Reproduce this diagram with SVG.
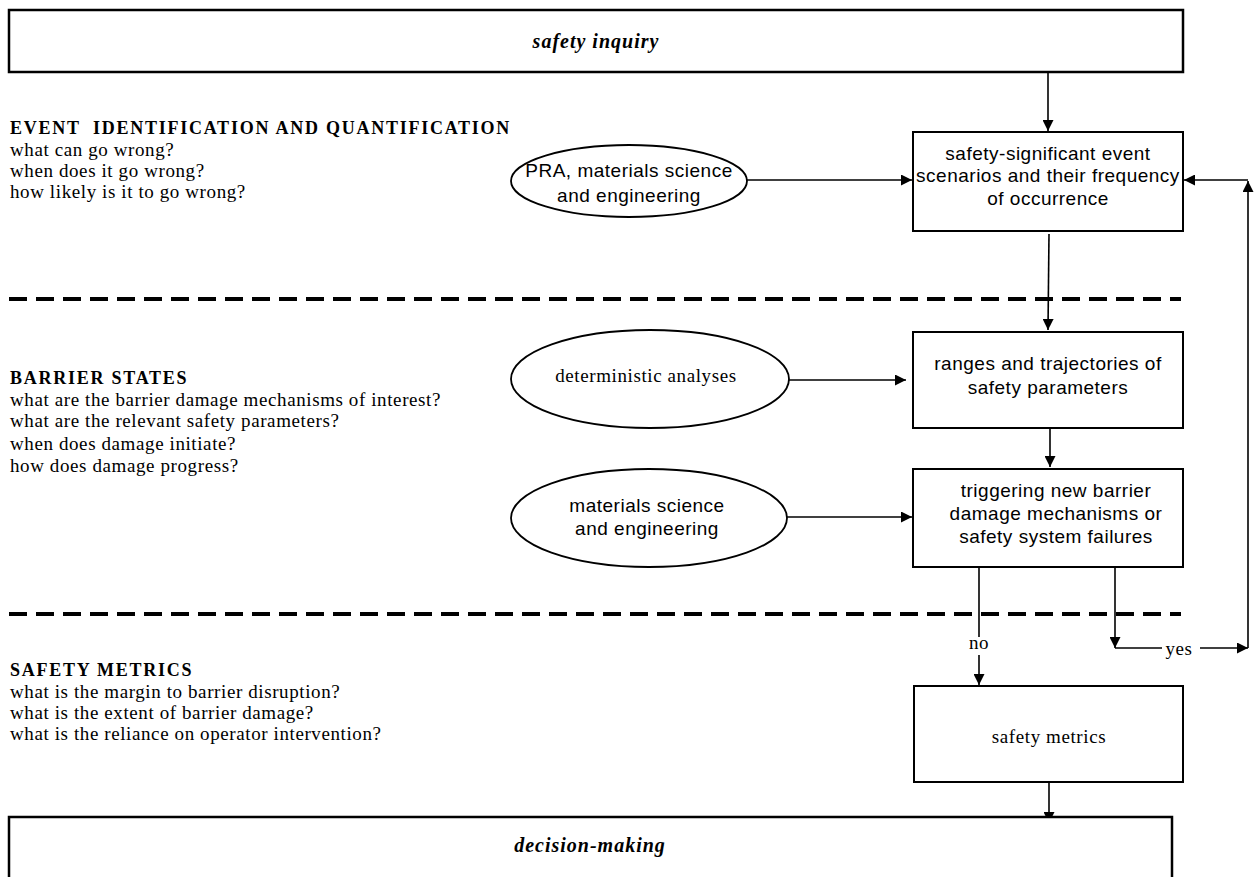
<svg xmlns="http://www.w3.org/2000/svg" width="1255" height="877" viewBox="0 0 1255 877">
<defs>
<marker id="ah" viewBox="0 0 10 10" refX="10" refY="5" markerWidth="11" markerHeight="11" markerUnits="userSpaceOnUse" orient="auto">
<path d="M0,0 L10,5 L0,10 z" fill="#000"/>
</marker>
<style>
.big{fill:#fff;stroke:#000;stroke-width:2.5}
.box{fill:#fff;stroke:#000;stroke-width:2}
.ell{fill:#fff;stroke:#000;stroke-width:1.8}
.con{fill:none;stroke:#000;stroke-width:1.6}
.arr{fill:none;stroke:#000;stroke-width:1.6;marker-end:url(#ah)}
.dash{fill:none;stroke:#000;stroke-width:4;stroke-dasharray:18 9}
.ti{font-family:"Liberation Serif","Times New Roman",serif;font-style:italic;font-weight:bold;font-size:20px;letter-spacing:1px;text-anchor:middle;fill:#000}
.hd{font-family:"Liberation Serif","Times New Roman",serif;font-weight:bold;font-size:18px;letter-spacing:1.75px;fill:#000;white-space:pre}
.q{font-family:"Liberation Serif","Times New Roman",serif;font-size:19px;letter-spacing:0.6px;fill:#000}
.qc{font-family:"Liberation Serif","Times New Roman",serif;font-size:19px;letter-spacing:0.6px;fill:#000;text-anchor:middle}
.sa{font-family:"Liberation Sans",Arial,sans-serif;font-size:19px;letter-spacing:0.5px;fill:#000;text-anchor:middle}
</style>
</defs>

<g id="dividers">
<line class="dash" x1="9" y1="299" x2="1181" y2="299"/>
<line class="dash" x1="9" y1="614" x2="1181" y2="614"/>
</g>

<g id="sections">
<text class="hd" x="10" y="134">EVENT  IDENTIFICATION AND QUANTIFICATION</text>
<text class="q" x="10" y="156">what can go wrong?</text>
<text class="q" x="10" y="177">when does it go wrong?</text>
<text class="q" x="10" y="198">how likely is it to go wrong?</text>
<text class="hd" x="10" y="384">BARRIER STATES</text>
<text class="q" x="10" y="406">what are the barrier damage mechanisms of interest?</text>
<text class="q" x="10" y="427">what are the relevant safety parameters?</text>
<text class="q" x="10" y="450">when does damage initiate?</text>
<text class="q" x="10" y="472">how does damage progress?</text>
<text class="hd" x="10" y="676">SAFETY METRICS</text>
<text class="q" x="10" y="698">what is the margin to barrier disruption?</text>
<text class="q" x="10" y="719">what is the extent of barrier damage?</text>
<text class="q" x="10" y="740">what is the reliance on operator intervention?</text>
</g>

<g id="connectors">
<line class="arr" x1="1048" y1="72" x2="1048" y2="131"/>
<line class="arr" x1="747" y1="180" x2="912" y2="180"/>
<line class="arr" x1="1049" y1="234" x2="1048" y2="330"/>
<line class="arr" x1="789" y1="380" x2="906" y2="380"/>
<line class="arr" x1="1050" y1="428" x2="1050" y2="467"/>
<line class="arr" x1="787" y1="517" x2="912" y2="517"/>
<line class="con" x1="979" y1="567" x2="979" y2="637"/>
<text class="qc" x="979" y="649">no</text>
<line class="arr" x1="979" y1="655" x2="979" y2="685"/>
<line class="arr" x1="1115" y1="562" x2="1115" y2="648"/>
<line class="con" x1="1115" y1="648" x2="1162" y2="648"/>
<text class="qc" x="1179" y="655">yes</text>
<line class="arr" x1="1200" y1="648" x2="1248" y2="648"/>
<line class="arr" x1="1248" y1="648" x2="1248" y2="181"/>
<line class="arr" x1="1248" y1="180" x2="1184" y2="180"/>
<line class="arr" x1="1049" y1="782" x2="1049" y2="823"/>
</g>

<g id="safety-inquiry">
<rect class="big" x="9" y="10" width="1174" height="62"/>
<text class="ti" x="596" y="48">safety inquiry</text>
</g>

<g id="pra">
<ellipse class="ell" cx="629" cy="181" rx="118" ry="36"/>
<text class="sa" x="629" y="177">PRA, materials science</text>
<text class="sa" x="629" y="202">and engineering</text>
</g>

<g id="event-scenarios">
<rect class="box" x="913" y="132" width="270" height="99"/>
<text class="sa" x="1048" y="160">safety-significant event</text>
<text class="sa" x="1048" y="182">scenarios and their frequency</text>
<text class="sa" x="1048" y="205">of occurrence</text>
</g>

<g id="deterministic">
<ellipse class="ell" cx="650" cy="379" rx="139" ry="49"/>
<text class="qc" x="646" y="382">deterministic analyses</text>
</g>

<g id="ranges">
<rect class="box" x="913" y="332" width="270" height="96"/>
<text class="sa" x="1048" y="370">ranges and trajectories of</text>
<text class="sa" x="1048" y="394">safety parameters</text>
</g>

<g id="materials">
<ellipse class="ell" cx="649" cy="518" rx="138" ry="49"/>
<text class="sa" x="647" y="512">materials science</text>
<text class="sa" x="647" y="535">and engineering</text>
</g>

<g id="triggering">
<rect class="box" x="913" y="469" width="270" height="98"/>
<text class="sa" x="1056" y="497">triggering new barrier</text>
<text class="sa" x="1056" y="520">damage mechanisms or</text>
<text class="sa" x="1056" y="543">safety system failures</text>
</g>

<g id="safety-metrics">
<rect class="box" x="914" y="686" width="269" height="96"/>
<text class="qc" x="1049" y="743">safety metrics</text>
</g>

<g id="decision-making">
<rect class="big" x="9" y="817" width="1163" height="80"/>
<text class="ti" x="590" y="852">decision-making</text>
</g>
</svg>
